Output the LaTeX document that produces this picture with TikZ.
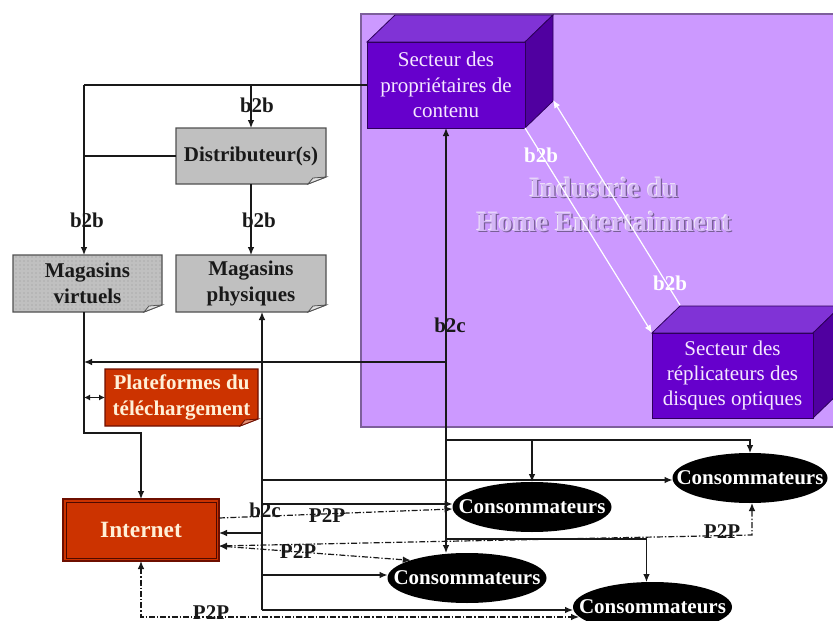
\documentclass[tikz,border=0pt]{standalone}
\usepackage{fontspec}
\setmainfont{Liberation Serif}
\usetikzlibrary{arrows.meta,calc,shapes.geometric,patterns}
\pgfdeclarelayer{bg}
\pgfsetlayers{bg,main}

\definecolor{panel}{RGB}{204,153,255}
\definecolor{panelline}{RGB}{125,95,155}
\definecolor{cubefront}{RGB}{102,0,204}
\definecolor{cubetop}{RGB}{128,51,214}
\definecolor{cubeside}{RGB}{80,0,160}
\definecolor{cubeedge}{RGB}{45,0,90}
\definecolor{cubetext}{RGB}{245,232,255}
\definecolor{rust}{RGB}{204,51,0}
\definecolor{rustedge}{RGB}{110,15,0}
\definecolor{cream}{RGB}{255,240,215}
\definecolor{boxgray}{RGB}{192,192,192}
\definecolor{boxedge}{RGB}{80,80,80}
\definecolor{ink}{RGB}{25,25,25}
\definecolor{embfill}{RGB}{212,182,246}
\definecolor{embshade}{RGB}{120,95,150}
\definecolor{embhigh}{RGB}{240,230,250}

\tikzset{
  every node/.style={inner sep=0pt, outer sep=0pt},
  lbl/.style={font=\fontsize{15.75}{18}\selectfont\bfseries, text=ink},
  wlbl/.style={lbl, text=white},
  cube/.style={align=center, text=cubetext, font=\fontsize{15.75}{19}\selectfont},
  gbox/.style={align=center, text=ink, font=\fontsize{15.75}{19.5}\selectfont\bfseries},
  rbox/.style={align=center, text=cream, font=\fontsize{15.75}{20}\selectfont\bfseries},
  cons/.style={ellipse, fill=black, text=white, font=\fontsize{15.75}{18}\selectfont\bfseries,
               minimum width=119.25pt, minimum height=37.5pt},
  emb/.style={align=center, font=\fontsize{21}{25.5}\selectfont\bfseries},
  conn/.style={draw=ink, line width=0.9pt},
  tip/.style={-{Latex[length=6pt,width=5pt]}},
  tips/.style={{Latex[length=6pt,width=5pt]}-{Latex[length=6pt,width=5pt]}},
  smalltips/.style={{Latex[length=4.5pt,width=4.5pt]}-{Latex[length=4.5pt,width=4.5pt]}},
  p2p/.style={conn, dash pattern=on 4.5pt off 1.5pt on 1pt off 1.5pt},
  wire/.style={draw=white, line width=0.9pt}
}

% box with a dog-eared lower right corner
\newcommand\noteshape[4]{%
  \filldraw[fill=#2, draw=#3, line width=0.8pt] (#1.north west) -- (#1.north east)
    -- ($(#1.south east)+(0,-7)$) -- ($(#1.south east)+(-18,0)$) -- (#1.south west) -- cycle;
  \filldraw[fill=#4, draw=#3, line width=0.6pt] ($(#1.south east)+(0,-7)$)
    -- ($(#1.south east)+(-18,0)$) -- ($(#1.south east)+(-13,-6)$) -- cycle;}

% block with a top and a right face
\newcommand\cubeshape[1]{%
  \filldraw[fill=cubetop, draw=cubeedge, line width=0.6pt] (#1.north west)
    -- ($(#1.north west)+(28,-27)$) -- ($(#1.north east)+(28,-27)$) -- (#1.north east) -- cycle;
  \filldraw[fill=cubeside, draw=cubeedge, line width=0.6pt] (#1.north east)
    -- ($(#1.north east)+(28,-27)$) -- ($(#1.south east)+(28,-27)$) -- (#1.south east) -- cycle;
  \filldraw[fill=cubefront, draw=cubeedge, line width=0.6pt] (#1.north west) rectangle (#1.south east);}

\begin{document}
\begin{tikzpicture}[x=0.75pt,y=-0.75pt]
\useasboundingbox (0,0) rectangle (833,621);
\clip (0,0) rectangle (833,621);

% ---------- nodes ----------
\node[cube, minimum width=118.5pt, minimum height=64.5pt] (b1) at (446,85)
  {Secteur des\\propriétaires de\\contenu};
\node[cube, minimum width=120.75pt, minimum height=63.75pt] (b2) at (732.5,375.5)
  {Secteur des\\réplicateurs des\\disques optiques};

\node[gbox, minimum width=112.5pt, minimum height=42pt] (dist) at (251,156) {Distributeur(s)};
\node[gbox, minimum width=111.75pt, minimum height=42.75pt] (mv) at (87.5,283.5) {Magasins\\virtuels};
\node[gbox, minimum width=112.5pt, minimum height=42.75pt] (mp) at (251,283.5) {Magasins\\physiques};
\node[rbox, minimum width=114.75pt, minimum height=42.75pt] (plat) at (181.5,397.5)
  {Plateformes du\\téléchargement};
\node[rbox, font=\fontsize{17.5}{20}\selectfont\bfseries, minimum width=117pt, minimum height=46.5pt]
  (inet) at (141,530) {Internet};

\node[cons] (C1) at (532,507) {\makebox[0pt]{Consommateurs}};
\node[cons, minimum width=116.25pt] (C2) at (750,478) {\makebox[0pt]{Consommateurs}};
\node[cons] (C3) at (467,578) {\makebox[0pt]{Consommateurs}};
\node[cons] (C4) at (652.5,607) {\makebox[0pt]{Consommateurs}};

% ---------- background shapes ----------
\begin{pgfonlayer}{bg}
  \filldraw[fill=panel, draw=panelline, line width=1.2pt] (361,14) rectangle (845,427);
  \cubeshape{b1}
  \cubeshape{b2}
  \noteshape{dist}{boxgray}{boxedge}{boxgray!45!white}
  \noteshape{mv}{boxgray}{boxedge}{boxgray!45!white}
  \fill[pattern=dots, pattern color=black!40] (mv.north west) -- (mv.north east)
    -- ($(mv.south east)+(0,-7)$) -- ($(mv.south east)+(-18,0)$) -- (mv.south west) -- cycle;
  \noteshape{mp}{boxgray}{boxedge}{boxgray!45!white}
  \noteshape{plat}{rust}{rustedge}{rust!55!white}
  \filldraw[fill=rust, draw=rustedge, line width=1.5pt] (inet.north west) rectangle (inet.south east);
  \draw[rustedge!70!black, line width=0.5pt] ($(inet.north west)+(3,3)$) rectangle ($(inet.south east)+(-3,-3)$);
\end{pgfonlayer}

% embossed title of the industry panel
\node[emb, text=embhigh] (embhi) at (602.9,204.1) {Industrie du\\Home Entertainment};
\node[emb, text=embshade] (emblo) at (605.3,206.3) {Industrie du\\Home Entertainment};
\node[emb, text=embfill] (emb) at (604,205) {Industrie du\\Home Entertainment};

% ---------- b2b supply chain ----------
\coordinate (jv) at (84,85);
\draw[conn] (b1.west) -- (jv);
\draw[conn,tip] (jv) -- (jv |- mv.north);
\draw[conn,tip] (dist.north |- jv) -- (dist.north);
\draw[conn] (dist.west) -- (dist.west -| jv);
\draw[conn,tip] (dist.south) -- (mp.north);
\draw[conn,tip] (jv |- mv.south) |- ($(inet.north)+(0,-66)$) -- (inet.north);
\draw[conn,smalltips] (jv |- plat.west) -- (plat.west);

% between the two sectors
\draw[wire,tip] (b1.south east) -- (b2.north west);
\draw[wire,tip] ($(b2.north west)+(28,-28)$) -- ($(b1.south east)+(28,-28)$);

% ---------- b2c from content owners ----------
\draw[conn,tips] (b1.south) -- (b1.south |- C3.north);
\coordinate (r362) at (446,362);
\coordinate (r440) at (446,440);
\coordinate (r539) at (446,539);
\draw[conn,tip] (r362) -- (r362 -| jv);
\draw[conn,tip] (r440) -| (C2.north);
\draw[conn,tip] (r440 -| C1.north) -- (C1.north);
\draw[conn,tip] (r539) -| ($(C4.north)+(-6,0)$);

% ---------- from physical stores ----------
\coordinate (vp) at (262,610);
\draw[conn,tip] (vp) -- (vp |- mp.south);
\draw[conn,tip] ($(vp |- C2.west)+(0,2)$) -- ($(C2.west)+(0,2)$);
\draw[conn,tip] ($(vp |- C1.west)+(0,-3)$) -- ($(C1.west)+(0,-3)$);
\draw[conn,tip] ($(vp |- inet.east)+(0,3)$) -- ($(inet.east)+(0,3)$);
\draw[conn,tip] ($(vp |- C3.west)+(0,-3)$) -- ($(C3.west)+(0,-3)$);
\draw[conn,tip] (vp) -- (vp -| C4.west);

% ---------- peer to peer ----------
\coordinate (k2) at (752,535);
\draw[p2p,tip] ($(inet.east)+(0,-12)$) -- ($(C1.west)+(0,2)$);
\draw[p2p,tips] ($(inet.east)+(0,16)$) -- (k2) -- (k2 |- C2.south);
\draw[p2p,tips] ($(inet.east)+(0,16)$) -- (C3.north west);
\draw[p2p,tips] (inet.south) |- ($(C4.west)+(6,10)$);

% ---------- labels ----------
\node[lbl] (t1) at (257,105) {b2b};
\node[lbl] (t2) at (87,220) {b2b};
\node[lbl] (t3) at (259,220) {b2b};
\node[wlbl] (t4) at (541,155) {b2b};
\node[wlbl] (t5) at (670,283) {b2b};
\node[lbl] (t6) at (450,325) {b2c};
\node[lbl] (t7) at (265,510) {b2c};
\node[lbl] (t8) at (327,516) {P2P};
\node[lbl] (t9) at (298,552) {P2P};
\node[lbl] (t10) at (722,532) {P2P};
\node[lbl] (t11) at (211,613) {P2P};
\end{tikzpicture}
\end{document}
